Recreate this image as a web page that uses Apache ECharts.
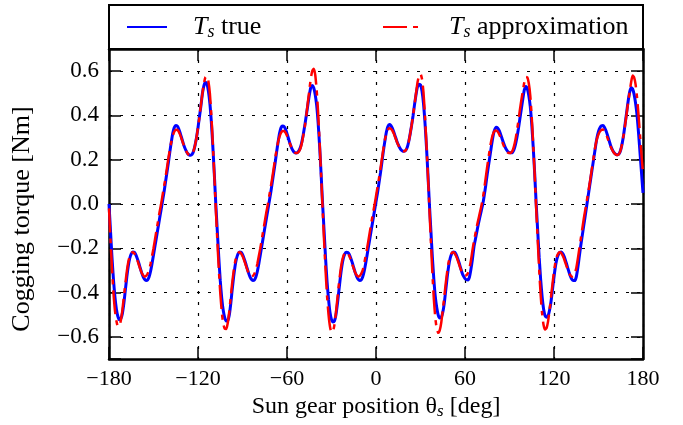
<!DOCTYPE html>
<html>
<head>
    <meta charset="utf-8">
    <title>Cogging torque</title>
    <script src="https://cdn.jsdelivr.net/npm/echarts/dist/echarts.min.js"></script>
</head>

<body style="margin:0">
    <div id="main" style="width: 683px; height: 425px;"></div>

    <script type="text/javascript">

        // sun gear angle grid, one sample per degree
        const theta = Array.from({ length: 361 }, (_, i) => i - 180)

        const xTicks = [-180, -120, -60, 0, 60, 120, 180]
        const yTicks = [-0.6, -0.4, -0.2, 0.0, 0.2, 0.4, 0.6]

        // Ts true (blue), 5 teeth periods
        const tsTrue = [
            0.00, -0.12, -0.24, -0.34, -0.42, -0.475, -0.508, -0.522, -0.518, -0.495,
            -0.45, -0.39, -0.33, -0.28, -0.245, -0.225, -0.217, -0.218, -0.228, -0.245,
            -0.265, -0.288, -0.31, -0.328, -0.34, -0.345, -0.343, -0.33, -0.305, -0.27,
            -0.23, -0.19, -0.15, -0.11, -0.07, -0.03, 0.01, 0.05, 0.095, 0.14,
            0.185, 0.235, 0.28, 0.32, 0.345, 0.355, 0.352, 0.34, 0.32, 0.298,
            0.275, 0.255, 0.24, 0.228, 0.222, 0.22, 0.224, 0.238, 0.265, 0.30,
            0.345, 0.395, 0.445, 0.50, 0.535, 0.55, 0.543, 0.51, 0.455, 0.37,
            0.26, 0.135,

            0.00, -0.12, -0.24, -0.345, -0.425, -0.48, -0.513, -0.528, -0.528, -0.505,
            -0.455, -0.39, -0.33, -0.28, -0.245, -0.225, -0.217, -0.218, -0.228, -0.245,
            -0.265, -0.288, -0.31, -0.328, -0.34, -0.345, -0.343, -0.33, -0.305, -0.27,
            -0.23, -0.19, -0.15, -0.11, -0.07, -0.03, 0.01, 0.05, 0.095, 0.14,
            0.185, 0.235, 0.28, 0.32, 0.345, 0.352, 0.35, 0.338, 0.318, 0.296,
            0.273, 0.255, 0.242, 0.233, 0.23, 0.232, 0.24, 0.255, 0.28, 0.315,
            0.355, 0.40, 0.445, 0.49, 0.525, 0.535, 0.525, 0.495, 0.445, 0.365,
            0.26, 0.135,

            0.00, -0.12, -0.245, -0.35, -0.43, -0.49, -0.522, -0.533, -0.528, -0.50,
            -0.45, -0.39, -0.33, -0.28, -0.245, -0.225, -0.218, -0.219, -0.228, -0.245,
            -0.265, -0.288, -0.31, -0.328, -0.34, -0.345, -0.343, -0.33, -0.305, -0.27,
            -0.23, -0.19, -0.15, -0.11, -0.07, -0.03, 0.01, 0.05, 0.095, 0.14,
            0.19, 0.24, 0.285, 0.325, 0.35, 0.359, 0.355, 0.343, 0.325, 0.305,
            0.285, 0.268, 0.254, 0.244, 0.239, 0.238, 0.242, 0.255, 0.28, 0.315,
            0.355, 0.40, 0.45, 0.495, 0.53, 0.541, 0.538, 0.51, 0.455, 0.37,
            0.26, 0.135,

            0.00, -0.12, -0.24, -0.34, -0.42, -0.47, -0.503, -0.515, -0.512, -0.49,
            -0.45, -0.39, -0.33, -0.28, -0.245, -0.225, -0.217, -0.218, -0.228, -0.245,
            -0.265, -0.288, -0.31, -0.326, -0.337, -0.342, -0.343, -0.33, -0.295, -0.25,
            -0.195, -0.16, -0.125, -0.09, -0.06, -0.03, 0.00, 0.04, 0.085, 0.135,
            0.18, 0.225, 0.27, 0.31, 0.335, 0.347, 0.343, 0.332, 0.315, 0.295,
            0.275, 0.258, 0.245, 0.236, 0.232, 0.231, 0.233, 0.245, 0.268, 0.30,
            0.34, 0.385, 0.43, 0.475, 0.515, 0.531, 0.522, 0.49, 0.44, 0.36,
            0.255, 0.135,

            0.00, -0.12, -0.24, -0.34, -0.42, -0.475, -0.505, -0.511, -0.505, -0.48,
            -0.44, -0.385, -0.33, -0.28, -0.247, -0.227, -0.218, -0.217, -0.225, -0.24,
            -0.26, -0.283, -0.305, -0.325, -0.34, -0.346, -0.346, -0.33, -0.29, -0.24,
            -0.19, -0.145, -0.10, -0.055, -0.01, 0.035, 0.08, 0.125, 0.17, 0.215,
            0.26, 0.30, 0.328, 0.345, 0.353, 0.354, 0.347, 0.332, 0.312, 0.29,
            0.268, 0.25, 0.237, 0.228, 0.223, 0.222, 0.228, 0.245, 0.275, 0.315,
            0.365, 0.415, 0.465, 0.505, 0.526, 0.52, 0.495, 0.455, 0.40, 0.32,
            0.23, 0.14, 0.05
        ]

        // Ts approximation (red dash-dot)
        const tsApprox = [
            -0.02, -0.16, -0.29, -0.40, -0.48, -0.528, -0.552, -0.55, -0.525, -0.48,
            -0.42, -0.36, -0.305, -0.262, -0.235, -0.222, -0.218, -0.222, -0.235, -0.252,
            -0.272, -0.292, -0.31, -0.322, -0.328, -0.325, -0.315, -0.30, -0.27, -0.235,
            -0.20, -0.16, -0.12, -0.08, -0.04, -0.005, 0.035, 0.075, 0.115, 0.16,
            0.205, 0.245, 0.28, 0.308, 0.326, 0.335, 0.335, 0.327, 0.312, 0.293,
            0.273, 0.255, 0.24, 0.228, 0.222, 0.22, 0.225, 0.24, 0.265, 0.30,
            0.345, 0.395, 0.45, 0.50, 0.545, 0.572, 0.578, 0.555, 0.50, 0.40,
            0.27, 0.13,

            -0.02, -0.16, -0.29, -0.40, -0.485, -0.54, -0.563, -0.565, -0.54, -0.49,
            -0.425, -0.36, -0.305, -0.262, -0.235, -0.222, -0.218, -0.222, -0.235, -0.252,
            -0.272, -0.292, -0.31, -0.322, -0.328, -0.325, -0.315, -0.30, -0.27, -0.235,
            -0.20, -0.16, -0.12, -0.08, -0.04, -0.005, 0.035, 0.075, 0.115, 0.16,
            0.205, 0.245, 0.28, 0.305, 0.322, 0.33, 0.33, 0.322, 0.308, 0.29,
            0.272, 0.256, 0.243, 0.234, 0.23, 0.231, 0.237, 0.25, 0.275, 0.31,
            0.35, 0.40, 0.455, 0.51, 0.565, 0.60, 0.611, 0.585, 0.515, 0.41,
            0.275, 0.13,

            -0.02, -0.165, -0.30, -0.415, -0.50, -0.555, -0.578, -0.575, -0.545, -0.49,
            -0.425, -0.36, -0.305, -0.262, -0.235, -0.222, -0.218, -0.222, -0.235, -0.252,
            -0.272, -0.292, -0.31, -0.322, -0.328, -0.325, -0.315, -0.30, -0.27, -0.235,
            -0.20, -0.16, -0.12, -0.08, -0.04, -0.005, 0.035, 0.075, 0.115, 0.16,
            0.205, 0.25, 0.29, 0.318, 0.335, 0.342, 0.34, 0.332, 0.318, 0.30,
            0.282, 0.266, 0.253, 0.244, 0.239, 0.238, 0.242, 0.255, 0.28, 0.315,
            0.355, 0.40, 0.45, 0.50, 0.55, 0.578, 0.587, 0.565, 0.505, 0.40,
            0.27, 0.13,

            -0.02, -0.17, -0.31, -0.43, -0.515, -0.565, -0.582, -0.57, -0.535, -0.48,
            -0.42, -0.36, -0.305, -0.262, -0.235, -0.222, -0.218, -0.222, -0.235, -0.252,
            -0.272, -0.292, -0.308, -0.318, -0.323, -0.322, -0.312, -0.29, -0.255, -0.21,
            -0.17, -0.135, -0.10, -0.07, -0.04, -0.01, 0.025, 0.07, 0.12, 0.17,
            0.215, 0.26, 0.295, 0.318, 0.33, 0.332, 0.327, 0.315, 0.30, 0.282,
            0.265, 0.25, 0.238, 0.232, 0.23, 0.232, 0.24, 0.26, 0.29, 0.33,
            0.375, 0.425, 0.47, 0.51, 0.55, 0.574, 0.572, 0.545, 0.49, 0.39,
            0.265, 0.13,

            -0.02, -0.16, -0.295, -0.41, -0.495, -0.548, -0.567, -0.56, -0.53, -0.48,
            -0.42, -0.36, -0.305, -0.262, -0.235, -0.222, -0.218, -0.222, -0.235, -0.252,
            -0.272, -0.292, -0.31, -0.322, -0.328, -0.325, -0.312, -0.29, -0.25, -0.205,
            -0.16, -0.115, -0.07, -0.03, 0.01, 0.05, 0.09, 0.135, 0.18, 0.225,
            0.265, 0.295, 0.315, 0.328, 0.335, 0.336, 0.33, 0.318, 0.30, 0.28,
            0.262, 0.247, 0.235, 0.227, 0.222, 0.221, 0.228, 0.245, 0.275, 0.315,
            0.36, 0.41, 0.46, 0.505, 0.55, 0.58, 0.572, 0.54, 0.48, 0.40,
            0.31, 0.22, 0.14
        ]

        const serif = 'Liberation Serif'
        const minus = v => (v < 0 ? '\u2212' + Math.abs(v) : '' + v)
        const yLabel = v => {
            if (!yTicks.some(t => Math.abs(t - v) < 1e-6)) return ''
            const s = Math.abs(v).toFixed(1)
            return v < -1e-6 ? '\u2212' + s : s
        }

        const tick = { inside: true, length: 12, lineStyle: { color: '#000', width: 1.5 } }
        const frame = { show: true, onZero: false, lineStyle: { color: '#000', width: 2.5 } }
        const grid = { show: true, lineStyle: { color: '#000', width: 1.2, type: [3, 8] } }

        const legendText = {
            fontFamily: serif, fontSize: 26, color: '#000', padding: [0, 0, 0, 21],
            rich: {
                t: { fontFamily: serif, fontSize: 26, fontStyle: 'italic', color: '#000' },
                s: { fontFamily: serif, fontSize: 18, fontStyle: 'italic', color: '#000', padding: [10, 0, 0, 0] }
            }
        }
        const noSymbol = { color: 'rgba(0,0,0,0)', borderWidth: 0, opacity: 0 }

        var myChart = echarts.init(document.getElementById('main'));

        option = {
            animation: false,
            backgroundColor: '#fff',
            grid: { left: 109, right: 40, top: 49, bottom: 66 },
            graphic: [{
                type: 'rect',
                shape: { x: 109, y: 5, width: 534, height: 44 },
                style: { fill: 'none', stroke: '#000', lineWidth: 2 }
            }],
            legend: [
                {
                    data: ['Ts true'], left: 121, top: 9,
                    itemWidth: 40, itemHeight: 14, itemStyle: noSymbol,
                    formatter: () => '{t|T}{s|s} true',
                    textStyle: legendText
                },
                {
                    data: ['Ts approximation'], left: 377, top: 9,
                    itemWidth: 37, itemHeight: 14, itemStyle: noSymbol,
                    formatter: () => '{t|T}{s|s} approximation',
                    textStyle: Object.assign({}, legendText, { padding: [0, 0, 0, 24] })
                }
            ],
            xAxis: [
                {
                    type: 'value', min: xTicks[0], max: xTicks[xTicks.length - 1], interval: 60,
                    axisLine: frame, axisTick: tick, splitLine: grid,
                    axisLabel: { fontFamily: serif, fontSize: 22, color: '#000', margin: 9, formatter: minus },
                    name: 'Sun gear position \u03b8{s|s} [deg]',
                    nameLocation: 'middle', nameGap: 35,
                    nameTextStyle: {
                        fontFamily: serif, fontSize: 24, color: '#000',
                        rich: { s: { fontFamily: serif, fontSize: 17, fontStyle: 'italic', color: '#000', padding: [9, 0, 0, 0] } }
                    }
                },
                {
                    type: 'value', position: 'top', min: -180, max: 180, interval: 60,
                    axisLine: frame, axisTick: tick, axisLabel: { show: false }, splitLine: { show: false }
                }
            ],
            yAxis: [
                {
                    type: 'value', min: -0.7, max: 0.7, splitNumber: 7,
                    axisLine: frame, axisTick: tick, splitLine: grid,
                    axisLabel: { fontFamily: serif, fontSize: 23, color: '#000', margin: 10, formatter: yLabel },
                    name: 'Cogging torque [Nm]',
                    nameLocation: 'middle', nameGap: 74,
                    nameTextStyle: { fontFamily: serif, fontSize: 26, color: '#000', padding: [0, 30, 0, 0] }
                },
                {
                    type: 'value', position: 'right', min: -0.7, max: 0.7, splitNumber: 7,
                    axisLine: frame, axisTick: tick, axisLabel: { show: false }, splitLine: { show: false }
                }
            ],
            series: [
                {
                    name: 'Ts true',
                    type: 'line',
                    symbol: 'none',
                    smooth: 0.2,
                    data: theta.map((t, i) => [t, tsTrue[i]]),
                    lineStyle: { color: '#0000ff', width: 3 },
                    itemStyle: { color: '#0000ff' }
                },
                {
                    name: 'Ts approximation',
                    type: 'line',
                    symbol: 'none',
                    smooth: 0.2,
                    data: theta.map((t, i) => [t, tsApprox[i]]),
                    lineStyle: { color: '#ff0000', width: 2.5, type: [24, 6, 5, 6] },
                    itemStyle: { color: '#ff0000' }
                }
            ]
        };

        myChart.setOption(option);
    </script>
</body>
</html>
